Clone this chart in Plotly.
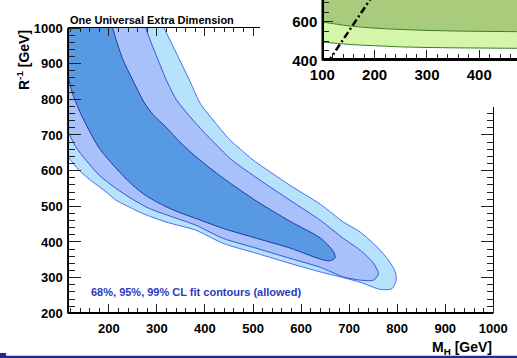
import plotly.graph_objects as go

# ---- fit contours in the (M_H, 1/R) plane, GeV ----
c99_x = [100, 100, 298, 315, 333, 350, 367, 390, 417, 452, 480, 500, 577, 640, 688,
         723, 758, 782, 796, 798, 789, 765, 723, 688, 640, 577, 508, 438, 381, 319,
         270, 235, 215, 194, 166, 138, 115, 100]
c99_y = [665, 1050, 1050, 1000, 950, 903, 856, 789, 742, 686, 653, 630, 559, 506, 456,
         428, 386, 349, 316, 293, 269, 267, 287, 300, 316, 340, 368, 396, 433, 456,
         480, 503, 517, 541, 569, 601, 639, 665]

c95_x = [100, 100, 265, 277, 288, 302, 319, 340, 369, 397, 424, 454, 515, 577, 640,
         688, 723, 751, 761, 751, 723, 688, 640, 577, 508, 438, 381, 333, 284, 249,
         215, 180, 152, 131, 115, 100]
c95_y = [740, 1050, 1050, 1000, 959, 912, 856, 800, 751, 709, 672, 632, 573, 517, 461,
         410, 377, 340, 311, 293, 293, 302, 329, 354, 382, 410, 447, 470, 494, 520,
         550, 587, 630, 667, 709, 740]

c68_x = [100, 100, 198, 208, 215, 229, 249, 274, 292, 319, 348, 381, 438, 508, 577,
         640, 667, 671, 660, 640, 577, 508, 438, 381, 348, 319, 300, 277, 249, 215,
         180, 152, 138, 124, 115, 100]
c68_y = [935, 1050, 1050, 1000, 968, 912, 856, 790, 757, 722, 680, 639, 579, 514, 458,
         411, 374, 356, 347, 352, 383, 410, 438, 466, 482, 499, 512, 530, 560, 607,
         663, 731, 770, 818, 865, 935]

# ---- inset: exclusion bands and the dash-dotted bound ----
ins_x = [100, 150, 200, 250, 300, 350, 400, 450, 500]
ins_upper = [600, 580, 568, 561, 556, 553, 551, 550, 549]
ins_lower = [496, 483, 476, 470, 467, 465, 464, 463, 462]
dd_x = [110, 200]
dd_y = [387, 752]

# tick labels
main_x_ticks = [200, 300, 400, 500, 600, 700, 800, 900, 1000]
main_y_ticks = [200, 300, 400, 500, 600, 700, 800, 900, 1000]
ins_x_ticks = [100, 200, 300, 400]
ins_y_ticks = [400, 600]

W, H = 517, 358
def fx(p):
    return p / W
def fy(p):
    return 1 - p / H

# main frame in pixels
L, R, T, B = 67.7, 493.3, 28.0, 313.3
XR = [114.4, 1000.0]
YR = [200.0, 1000.0]
top_end = 260.0      # top frame visible up to here
right_start = 107.0  # right frame visible from here down
x_top_hi = XR[0] + (top_end - L) / (R - L) * (XR[1] - XR[0])
y_right_hi = YR[0] + (B - right_start) / (B - T) * (YR[1] - YR[0])

# inset frame
IL, IB = 322.3, 60.3
I_XR = [100, 100 + (W - IL) / 0.5233]
I_YR = [400, 400 + IB / 0.1917]

EPS = 0.002  # thin carrier domains for the edge axes

FAM = "Liberation Sans, Arial, sans-serif"
lab = dict(family=FAM, size=13, color="black")
lab_in = dict(family=FAM, size=15, color="black")
TICK = "#222"

def bold_labels(vals):
    return dict(tickmode="array", tickvals=vals, ticktext=[f"<b>{v}</b>" for v in vals])

fig = go.Figure()

fills = [
    (c99_x, c99_y, "#b6e2fb", "#4a6cf2"),
    (c95_x, c95_y, "#a9c1fa", "#3555d6"),
    (c68_x, c68_y, "#5799e2", "#2436a8"),
]
for xs, ys, fc, lc in fills:
    fig.add_trace(go.Scatter(x=xs, y=ys, mode="lines", fill="toself", fillcolor=fc,
                             line=dict(color=lc, width=1, shape="spline", smoothing=0.7),
                             hoverinfo="skip", showlegend=False))

# inset bands
top_fill_y = [I_YR[1] + 100] * len(ins_x)
fig.add_trace(go.Scatter(x=ins_x + ins_x[::-1], y=ins_upper + top_fill_y[::-1],
                         fill="toself", fillcolor="#a8cc7c", mode="lines",
                         line=dict(width=0), xaxis="x2", yaxis="y2", showlegend=False, hoverinfo="skip"))
fig.add_trace(go.Scatter(x=ins_x + ins_x[::-1], y=ins_lower + ins_upper[::-1],
                         fill="toself", fillcolor="#d4f6a9", mode="lines",
                         line=dict(width=0), xaxis="x2", yaxis="y2", showlegend=False, hoverinfo="skip"))
for ys in (ins_upper, ins_lower):
    fig.add_trace(go.Scatter(x=ins_x, y=ys, mode="lines",
                             line=dict(color="#3d7a2c", width=1, shape="spline"),
                             xaxis="x2", yaxis="y2", showlegend=False, hoverinfo="skip"))
fig.add_trace(go.Scatter(x=dd_x, y=dd_y, mode="lines",
                         line=dict(color="black", width=2.5, dash="7px,3px,2px,3px"),
                         xaxis="x2", yaxis="y2", showlegend=False, hoverinfo="skip"))

# carrier traces for the frame edges
for n in (4, 5, 6, 7, 8, 9):
    fig.add_trace(go.Scatter(x=[None], y=[None], xaxis=f"x{n}", yaxis=f"y{n}",
                             showlegend=False, hoverinfo="skip"))

edge = dict(showgrid=False, zeroline=False, showline=True, linecolor="black",
            linewidth=1.2, tickcolor=TICK, tickwidth=1, showticklabels=False,
            automargin=False, tick0=0)
labels_only = dict(showgrid=False, zeroline=False, showline=False, ticks="",
                   automargin=False)
hidden = dict(visible=False, showgrid=False, zeroline=False, automargin=False)

def minor(step, length, where):
    return dict(dtick=step, tick0=0, ticklen=length, ticks=where, tickcolor=TICK)

def hline(x0, x1, y, w):
    return dict(type="line", xref="paper", yref="paper", x0=x0, x1=x1, y0=y, y1=y,
                line=dict(color="black", width=w), layer="above")

def vline(x, y0, y1, w):
    return dict(type="line", xref="paper", yref="paper", x0=x, x1=x, y0=y0, y1=y1,
                line=dict(color="black", width=w), layer="above")

fig.update_layout(
    template="none",
    width=W, height=H, margin=dict(l=0, r=0, t=0, b=0, autoexpand=False),
    paper_bgcolor="white", plot_bgcolor="rgba(0,0,0,0)",
    # main panel: data coordinates and tick labels
    xaxis=dict(labels_only, domain=[fx(L), fx(R)], range=XR, anchor="y",
               tickfont=lab, ticklabelstandoff=6, **bold_labels(main_x_ticks)),
    yaxis=dict(labels_only, domain=[fy(B), fy(T)], range=YR, anchor="x",
               tickfont=lab, ticklabelstandoff=4, **bold_labels(main_y_ticks)),
    # bottom edge: top side of a thin strip, ticks pointing up
    xaxis6=dict(edge, domain=[fx(L), fx(R)], range=XR, anchor="y6",
                side="top", ticks="outside", dtick=100, ticklen=8,
                minor=minor(20, 4, "outside")),
    yaxis6=dict(hidden, domain=[fy(B) - EPS, fy(B)], range=[0, 1], anchor="x6"),
    # left edge: right side of a thin strip, ticks pointing right
    xaxis7=dict(hidden, domain=[fx(L) - EPS, fx(L)], range=[0, 1], anchor="y7"),
    yaxis7=dict(edge, domain=[fy(B), fy(T)], range=YR, anchor="x7",
                side="right", ticks="outside", dtick=100, ticklen=12,
                minor=minor(20, 6, "outside")),
    # top edge (left part only)
    xaxis4=dict(edge, domain=[fx(L), fx(top_end)], range=[XR[0], x_top_hi], anchor="y4",
                side="top", ticks="inside", dtick=100, ticklen=8,
                minor=minor(20, 4, "inside")),
    yaxis4=dict(hidden, domain=[fy(B), fy(T)], range=YR, anchor="x4"),
    # right edge (lower part only)
    xaxis5=dict(hidden, domain=[fx(L), fx(R)], range=XR, anchor="y5"),
    yaxis5=dict(edge, domain=[fy(B), fy(right_start)], range=[YR[0], y_right_hi],
                anchor="x5", side="right", ticks="inside", dtick=100, ticklen=12,
                minor=minor(20, 6, "inside")),
    # inset: data coordinates and tick labels
    xaxis2=dict(labels_only, domain=[fx(IL), 1], range=I_XR, anchor="y2",
                tickfont=lab_in, ticklabelstandoff=4, **bold_labels(ins_x_ticks)),
    yaxis2=dict(labels_only, domain=[fy(IB), 1], range=I_YR, anchor="x2",
                tickfont=lab_in, ticklabelstandoff=4, **bold_labels(ins_y_ticks)),
    # inset edges
    xaxis8=dict(edge, domain=[fx(IL), 1], range=I_XR, anchor="y8",
                side="top", ticks="outside", dtick=100, ticklen=9, linewidth=1.6,
                minor=minor(20, 5, "outside")),
    yaxis8=dict(hidden, domain=[fy(IB) - EPS, fy(IB)], range=[0, 1], anchor="x8"),
    xaxis9=dict(hidden, domain=[fx(IL) - EPS, fx(IL)], range=[0, 1], anchor="y9"),
    yaxis9=dict(edge, domain=[fy(IB), 1], range=I_YR, anchor="x9",
                side="right", ticks="outside", dtick=200, ticklen=9, linewidth=1.6,
                minor=minor(50, 5, "outside")),
    annotations=[
        dict(text="<b>One Universal Extra Dimension</b>", xref="paper", yref="paper",
             x=fx(L), y=fy(20), xanchor="left", yanchor="middle", showarrow=False,
             font=dict(family=FAM, size=11, color="black")),
        dict(text="<b>68%, 95%, 99% CL fit contours (allowed)</b>", xref="paper", yref="paper",
             x=fx(89), y=fy(292), xanchor="left", yanchor="middle", showarrow=False,
             font=dict(family=FAM, size=11, color="#2a3cc0")),
        dict(text="<b>R<sup>-1</sup> [GeV]</b>", xref="paper", yref="paper", textangle=-90,
             x=fx(23), y=fy(T), xanchor="center", yanchor="top", showarrow=False,
             font=dict(family=FAM, size=14, color="black")),
        dict(text="<b>M<sub>H</sub> [GeV]</b>", xref="paper", yref="paper",
             x=fx(494), y=fy(348), xanchor="right", yanchor="middle", showarrow=False,
             font=dict(family=FAM, size=14, color="black")),
    ],
    shapes=[
        # frame edges of the main panel and the inset
        hline(fx(L), fx(R), fy(B), 1.2),
        vline(fx(L), fy(B), fy(T), 1.2),
        hline(fx(IL), 1, fy(IB), 1.6),
        vline(fx(IL), fy(IB), 1, 1.6),
        # footer rule
        dict(type="rect", xref="paper", yref="paper", x0=0, x1=1, y0=0, y1=2.2 / H,
             fillcolor="#1b2b92", line=dict(width=0)),
        dict(type="rect", xref="paper", yref="paper", x0=0, x1=6 / W, y0=0, y1=5 / H,
             fillcolor="#1b2b92", line=dict(width=0)),
    ],
)

fig.write_html("out.html")
